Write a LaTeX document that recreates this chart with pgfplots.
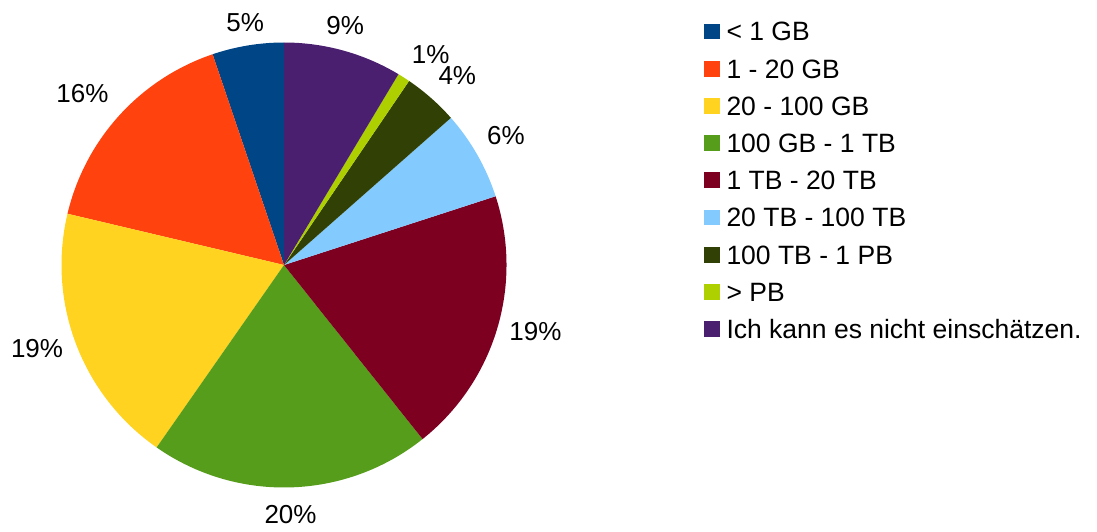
\documentclass[border=0pt]{standalone}
\usepackage{pgfplots}
\usepackage{pgfplotstable}
\pgfplotsset{compat=1.18}
\usepackage{fontspec}
\setmainfont{Liberation Sans}
\definecolor{c1}{HTML}{004586}
\definecolor{c2}{HTML}{FF420E}
\definecolor{c3}{HTML}{FFD320}
\definecolor{c4}{HTML}{579D1C}
\definecolor{c5}{HTML}{7E0021}
\definecolor{c6}{HTML}{83CAFF}
\definecolor{c7}{HTML}{314004}
\definecolor{c8}{HTML}{AECF00}
\definecolor{c9}{HTML}{4B1F6F}
% slices counter-clockwise from 12 o'clock;
% ladj = label angle shift (deg), ld = label distance from centre
\pgfplotstableread{
value pct col ladj ld
5.2  5  c1 -0.3 246
16.1 16 c2  1.8 265
19.0 19 c3 -2.2 260.7
20.4 20 c4 -0.3 249.2
19.3 19 c5  2.0 260
6.5  6  c6  0.7 257.3
4.0  4  c7 -1.0 257
0.9  1  c8 -2.3 256.5
8.6  9  c9  1.2 247.9
}\piedata
\newcommand\lblfont{\fontsize{26pt}{30pt}\selectfont}
\newcommand\legfont{\fontsize{26.5pt}{30pt}\selectfont}
\begin{document}
\begin{tikzpicture}
\begin{axis}[
  hide axis, scale only axis,
  width=1097pt, height=531pt,
  xmin=0, xmax=1097, ymin=0, ymax=531,
  clip=false,
  legend image code/.code={\fill[#1] (0pt,-7.85pt) rectangle (15.7pt,7.85pt);},
  legend cell align=left,
  legend style={draw=none, fill=none, at={(0.64175,0.9586)}, anchor=north west,
    inner sep=0pt, outer sep=0pt, row sep=18.2pt, column sep=6.8pt,
    font=\legfont, nodes={inner sep=0pt, text height=19pt, text depth=0pt}},
]
\pgfplotstablegetrowsof{\piedata}
\pgfmathtruncatemacro{\N}{\pgfplotsretval-1}
\def\cum{0}
\pgfplotsforeachungrouped \i in {0,...,\N}{%
  \pgfplotstablegetelem{\i}{value}\of\piedata \let\v\pgfplotsretval
  \pgfplotstablegetelem{\i}{pct}\of\piedata \let\p\pgfplotsretval
  \pgfplotstablegetelem{\i}{col}\of\piedata \let\c\pgfplotsretval
  \pgfplotstablegetelem{\i}{ladj}\of\piedata \let\la\pgfplotsretval
  \pgfplotstablegetelem{\i}{ld}\of\piedata \let\ld\pgfplotsretval
  \pgfmathsetmacro{\a}{90+3.6*\cum}%
  \pgfmathsetmacro{\b}{90+3.6*(\cum+\v)}%
  \pgfmathsetmacro{\m}{(\a+\b)/2+\la}%
  \pgfmathsetmacro{\cum}{\cum+\v}%
  \edef\temp{\noexpand\fill[\c] (axis cs:284,266) -- (axis cs:{284+222.5*cos(\a)},{266+222.5*sin(\a)}) arc[start angle=\a, end angle=\b, radius=222.5] -- cycle;
  \noexpand\node[anchor=center, inner sep=0pt, text height=18.6pt, text depth=0pt, font=\noexpand\lblfont] at (axis cs:{284+\ld*cos(\m)},{266+\ld*sin(\m)}) {\p\noexpand\%};}%
  \temp
}
\addlegendimage{fill=c1, draw=none}\addlegendentry{< 1 GB}
\addlegendimage{fill=c2, draw=none}\addlegendentry{1 - 20 GB}
\addlegendimage{fill=c3, draw=none}\addlegendentry{20 - 100 GB}
\addlegendimage{fill=c4, draw=none}\addlegendentry{100 GB - 1 TB}
\addlegendimage{fill=c5, draw=none}\addlegendentry{1 TB - 20 TB}
\addlegendimage{fill=c6, draw=none}\addlegendentry{20 TB - 100 TB}
\addlegendimage{fill=c7, draw=none}\addlegendentry{100 TB - 1 PB}
\addlegendimage{fill=c8, draw=none}\addlegendentry{> PB}
\addlegendimage{fill=c9, draw=none}\addlegendentry{Ich kann es nicht einschätzen.}
\end{axis}
\pgfresetboundingbox
\useasboundingbox (current axis.south west) rectangle (current axis.north east);
\end{tikzpicture}
\end{document}
